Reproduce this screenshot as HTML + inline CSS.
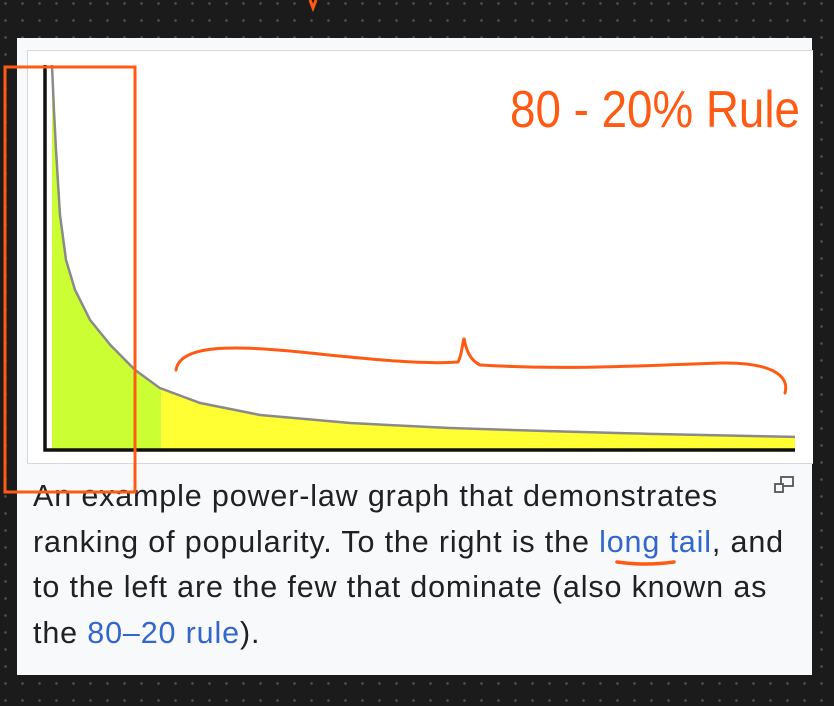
<!DOCTYPE html>
<html><head><meta charset="utf-8">
<style>
html,body{margin:0;padding:0}
body{width:834px;height:706px;overflow:hidden;position:relative;background:#1b1b1b;
background-image:radial-gradient(circle,#4a4a4a 1.2px,transparent 1.6px);background-size:17px 17px;background-position:-3px 12px;font-family:"Liberation Sans",sans-serif}
#card{position:absolute;left:17px;top:38px;width:795px;height:637px;background:#f8f9fa}
#imgbox{position:absolute;left:10px;top:12px;width:785px;height:412px;background:#fff;border:1px solid #d6d8db;border-right:none}
#cap{position:absolute;left:16px;top:436px;width:780px;font-size:30.5px;line-height:45.5px;color:#202122;letter-spacing:0.85px;white-space:nowrap}
#cap a{color:#3366cc;text-decoration:none}
svg{position:absolute;left:0;top:0}
</style></head><body>
<div id="card">
  <div id="imgbox"></div>
  <div id="cap">An example power-law graph that demonstrates<br>ranking of popularity. To the right is the <a>long tail</a>, and<br>to the left are the few that dominate (also known as<br>the <a>80–20 rule</a>).</div>
  <svg style="left:757px;top:438px" width="22" height="20"><rect x="7" y="1" width="12" height="9" fill="none" stroke="#555" stroke-width="1.8"/><rect x="1" y="8" width="8" height="8" fill="#f8f9fa" stroke="#555" stroke-width="1.8"/></svg>
</div>
<svg id="chart" width="834" height="706"></svg>
<script>
const ranks=[0.93,1.2,1.47,2.0,2.8,4.0,6.0,8.7,12,15.3,20.7,28.7,40.7,54,67.3,80.7,100];
const values=[100,88,77.9,61,49.4,41.6,33.8,27.3,20.8,16.1,12.2,9.1,7.0,5.7,4.9,4.2,3.4];
const headCutoff=[15.5];
const NS="http://www.w3.org/2000/svg";
const svg=document.getElementById('chart');
const X=r=>45+r*7.5, Y=v=>450-v*3.85;
function mk(t,a){const e=document.createElementNS(NS,t);for(const k in a)e.setAttribute(k,a[k]);svg.appendChild(e);return e;}
function valAt(r){for(let i=0;i<ranks.length-1;i++){if(r>=ranks[i]&&r<=ranks[i+1]){const f=(r-ranks[i])/(ranks[i+1]-ranks[i]);return values[i]+f*(values[i+1]-values[i]);}}return values[values.length-1];}
const cut=headCutoff[0];
let d=`M${X(ranks[0])},${Y(0)}`;
ranks.forEach((r,i)=>{if(r<=cut)d+=` L${X(r)},${Y(values[i])}`;});
d+=` L${X(cut)},${Y(valAt(cut))} L${X(cut)},${Y(0)} Z`;
let e=mk('path',{d:d,fill:'#ccff33'});


d=`M${X(cut)},${Y(0)} L${X(cut)},${Y(valAt(cut))}`;
ranks.forEach((r,i)=>{if(r>cut)d+=` L${X(r)},${Y(values[i])}`;});
d+=` L${X(ranks[ranks.length-1])},${Y(0)} Z`;
e=mk('path',{d:d,fill:'#ffff33'});


e=mk('polyline',{points:ranks.map((r,i)=>X(r)+','+Y(values[i])).join(' '),fill:'none',stroke:'#8a8a8a','stroke-width':2.5,'stroke-linejoin':'round'});


e=mk('path',{d:`M45,65 L45,450 L795,450`,fill:'none',stroke:'#111','stroke-width':3.5});


const O='#ff5a14';
e=mk('rect',{x:5,y:67,width:130,height:425,fill:'none',stroke:O,'stroke-width':3});


e=mk('path',{d:'M176,370 C180,345 230,345 300,352 C360,358 420,365 458,362 C462,355 462,345 464,338 C466,350 470,360 480,365 C560,370 640,366 720,363 C770,362 790,375 785,393',fill:'none',stroke:O,'stroke-width':3,'stroke-linecap':'round'});


e=mk('path',{d:'M617,562 Q645,566 674,562',fill:'none',stroke:O,'stroke-width':3.5,'stroke-linecap':'round'});


e=mk('path',{d:'M310,0 L313,8 L316,0',fill:'none',stroke:O,'stroke-width':3});


e=mk('text',{x:510,y:127,fill:O,'font-family':'"Liberation Sans Narrow","Liberation Sans",sans-serif','font-size':52,'textLength':290,'lengthAdjust':'spacingAndGlyphs'});
e.textContent='80 - 20% Rule';


</script>
</body></html>
